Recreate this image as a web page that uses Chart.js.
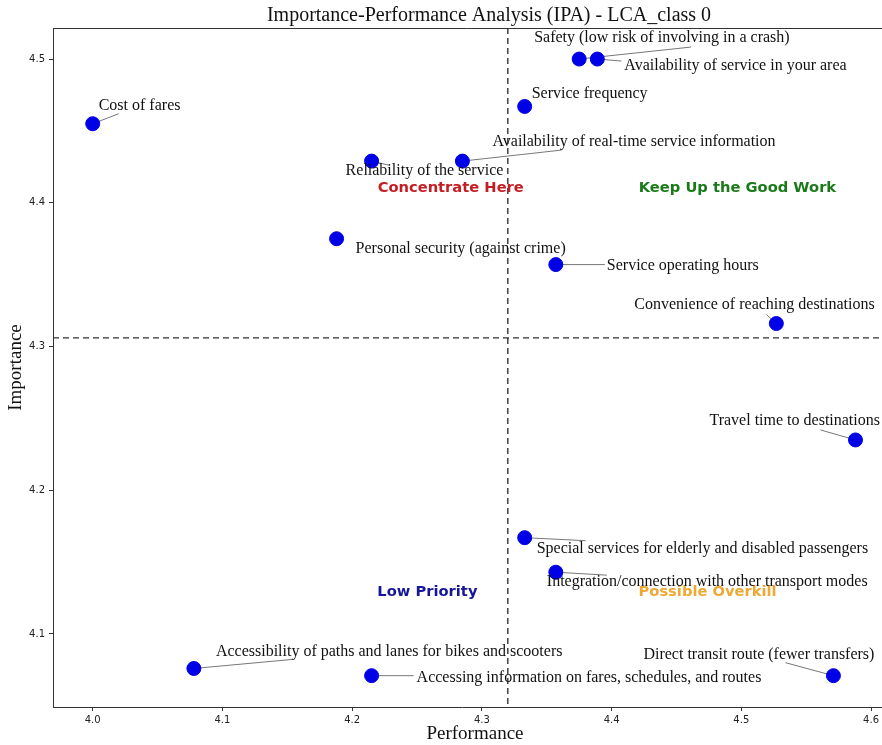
<!DOCTYPE html>
<html>
<head>
<meta charset="utf-8">
<script src="https://cdn.jsdelivr.net/npm/chart.js@4.4.1/dist/chart.umd.min.js"></script>
<style>
  html, body { margin: 0; padding: 0; background: #fff; }
  #wrap { width: 882px; height: 745px; }
</style>
</head>
<body>
<div id="wrap"><canvas id="ipaChart" width="882" height="745"></canvas></div>
<script>
// attribute names
const attributes = [
  'Safety (low risk of involving in a crash)',
  'Availability of service in your area',
  'Service frequency',
  'Cost of fares',
  'Reliability of the service',
  'Availability of real-time service information',
  'Personal security (against crime)',
  'Service operating hours',
  'Convenience of reaching destinations',
  'Travel time to destinations',
  'Special services for elderly and disabled passengers',
  'Integration/connection with other transport modes',
  'Direct transit route (fewer transfers)',
  'Accessibility of paths and lanes for bikes and scooters',
  'Accessing information on fares, schedules, and routes'
];
const performance = [4.375, 4.389, 4.333, 4.000, 4.215, 4.285, 4.188, 4.357, 4.527, 4.588, 4.333, 4.357, 4.571, 4.078, 4.215];
const importance  = [4.500, 4.500, 4.467, 4.455, 4.429, 4.429, 4.375, 4.357, 4.316, 4.235, 4.167, 4.143, 4.071, 4.076, 4.071];

const perfMean = 4.32;
const impMean = 4.306;

const xTicks = [4.0, 4.1, 4.2, 4.3, 4.4, 4.5, 4.6];
const yTicks = [4.1, 4.2, 4.3, 4.4, 4.5];

const quadrantNames = ['Concentrate Here', 'Keep Up the Good Work', 'Low Priority', 'Possible Overkill'];
const quadrantX = [4.276, 4.497, 4.258, 4.474];
const quadrantY = [4.41, 4.41, 4.129, 4.129];
const quadrantColors = ['#c41e24', '#1a7a1a', '#16169a', 'rgba(235,160,30,0.9)'];

// label placement in pixels relative to the point: text left, text middle, leader end
const labelOffsets = [
  [-45, -21, 112, -12],
  [27, 7, 24, 2],
  [7, -13, null, null],
  [6, -18, 26, -10],
  [-26, 10, 17, 4],
  [30, -19, 99, -11],
  [19, 10, null, null],
  [51, 1, 49, 0],
  [-142, -19, -10, -9],
  [-146, -19, -35, -10],
  [12, 11, 61, 3],
  [-9, 10, 51, 3],
  [-190, -21, -48, -13],
  [22, -17, 98, -9],
  [45, 2, 42, 0]
];

const points = performance.map((p, i) => ({ x: p, y: importance[i] }));

const ipaPlugin = {
  id: 'ipa',
  beforeDatasetsDraw(chart) {
    const { ctx, chartArea: a, scales: { x, y } } = chart;
    const W = chart.width;
    ctx.save();
    // frame (left, top, bottom)
    ctx.strokeStyle = '#333';
    ctx.lineWidth = 1;
    ctx.beginPath();
    ctx.moveTo(W, a.top + 0.5);
    ctx.lineTo(a.left + 0.5, a.top + 0.5);
    ctx.moveTo(a.right, a.bottom + 0.5);
    ctx.lineTo(W, a.bottom + 0.5);
    ctx.stroke();

    // mean lines
    ctx.setLineDash([6, 4]);
    ctx.lineWidth = 1.4;
    ctx.strokeStyle = '#333';
    const mx = x.getPixelForValue(perfMean);
    const my = y.getPixelForValue(impMean);
    ctx.beginPath();
    ctx.moveTo(mx, a.top);
    ctx.lineTo(mx, a.bottom);
    ctx.moveTo(a.left, my);
    ctx.lineTo(W, my);
    ctx.stroke();
    ctx.setLineDash([]);

    // quadrant names
    ctx.font = 'bold 14.7px "DejaVu Sans"';
    ctx.textAlign = 'center';
    ctx.textBaseline = 'middle';
    quadrantNames.forEach((n, i) => {
      ctx.fillStyle = quadrantColors[i];
      ctx.fillText(n, x.getPixelForValue(quadrantX[i]), y.getPixelForValue(quadrantY[i]));
    });

    // leader lines
    ctx.strokeStyle = '#777';
    ctx.lineWidth = 1;
    points.forEach((pt, i) => {
      const o = labelOffsets[i];
      if (o[2] === null) return;
      const px = x.getPixelForValue(pt.x);
      const py = y.getPixelForValue(pt.y);
      ctx.beginPath();
      ctx.moveTo(px, py);
      ctx.lineTo(px + o[2], py + o[3]);
      ctx.stroke();
    });
    ctx.restore();
  },
  afterDatasetsDraw(chart) {
    const { ctx, chartArea: a, scales: { x, y } } = chart;
    ctx.save();
    ctx.fillStyle = '#111';
    ctx.font = '16px "Liberation Serif"';
    ctx.textAlign = 'left';
    ctx.textBaseline = 'middle';
    points.forEach((pt, i) => {
      const o = labelOffsets[i];
      ctx.fillText(attributes[i], x.getPixelForValue(pt.x) + o[0], y.getPixelForValue(pt.y) + o[1]);
    });

    // title and axis titles
    ctx.textAlign = 'center';
    ctx.font = '20px "Liberation Serif"';
    ctx.fillText('Importance-Performance Analysis (IPA) - LCA_class 0', 489, 16);
    ctx.font = '19px "Liberation Serif"';
    ctx.fillText('Performance', 475, 734);
    ctx.translate(16, (a.top + a.bottom) / 2);
    ctx.rotate(-Math.PI / 2);
    ctx.fillText('Importance', 0, 0);
    ctx.restore();
  }
};

new Chart(document.getElementById('ipaChart'), {
  type: 'scatter',
  data: {
    datasets: [{
      data: points,
      backgroundColor: '#0000e6',
      borderColor: '#0000e6',
      pointRadius: 7,
      pointHoverRadius: 7
    }]
  },
  options: {
    responsive: false,
    animation: false,
    layout: { padding: { top: 28, right: 0, left: 0, bottom: 0 } },
    scales: {
      x: {
        min: 3.9694,
        max: 4.6003,
        afterBuildTicks: s => { s.ticks = xTicks.map(v => ({ value: v })); },
        afterFit: s => { s.height = 38; },
        grid: { drawOnChartArea: false, tickLength: 4, color: '#333' },
        border: { color: '#333', width: 1 },
        ticks: { color: '#222', font: { family: 'DejaVu Sans', size: 10 }, padding: 3, callback: v => v.toFixed(1) }
      },
      y: {
        min: 4.0492,
        max: 4.5216,
        afterBuildTicks: s => { s.ticks = yTicks.map(v => ({ value: v })); },
        afterFit: s => { s.width = 53; },
        grid: { drawOnChartArea: false, tickLength: 4, color: '#333' },
        border: { color: '#333', width: 1 },
        ticks: { color: '#222', font: { family: 'DejaVu Sans', size: 10 }, padding: 4, callback: v => v.toFixed(1) }
      }
    },
    plugins: {
      legend: { display: false },
      tooltip: { enabled: false }
    }
  },
  plugins: [ipaPlugin]
});
</script>
</body>
</html>
